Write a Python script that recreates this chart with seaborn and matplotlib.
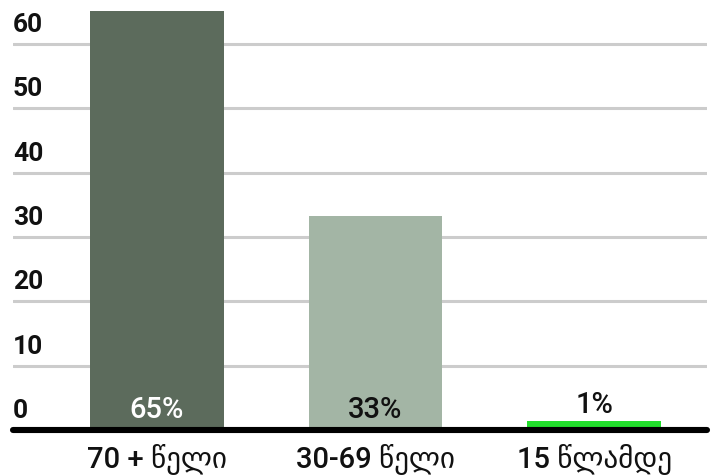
import matplotlib
matplotlib.use('Agg')
import matplotlib.pyplot as plt
import matplotlib.transforms as mtransforms
import seaborn as sns
import pandas as pd

# ─── 数据 ───
categories = ['70 + წელი', '30-69 წელი', '15 წლამდე']
values = [65.2, 33.2, 1.4]
value_labels = ['65%', '33%', '1%']
bar_colors = ['#5c6b5c', '#a3b5a5', '#22de2c']
label_colors = ['#ffffff', '#111111', '#111111']
yticks = [0, 10, 20, 30, 40, 50, 60]

sns.set_style('white')
plt.rcParams['font.family'] = ['Roboto', 'DejaVu Sans']

df = pd.DataFrame({'cat': categories, 'val': values})

fig = plt.figure(figsize=(7.16, 4.76), dpi=100)
ax = fig.add_axes([13 / 716, 46 / 476, 694 / 716, 430 / 476])

sns.barplot(data=df, x='cat', y='val', hue='cat', palette=bar_colors,
            legend=False, width=0.613, saturation=1, linewidth=0,
            ax=ax, zorder=2)

ax.set_xlim(-0.659, 2.517)
ax.set_ylim(0, 66.84)
for s in ax.spines.values():
    s.set_visible(False)
ax.set_xticks([])
ax.set_yticks([])
ax.set_xlabel('')
ax.set_ylabel('')

# 网格线 + 基线
for t in yticks[1:]:
    ax.axhline(t, color='#cccccc', lw=2.2, zorder=1)
ax.axhline(0, color='black', lw=4.4, zorder=3, clip_on=False)

# y 轴标签（在网格线上方，靠左）
trans = mtransforms.blended_transform_factory(ax.transAxes, ax.transData)
for t in yticks:
    ax.text(0, t + 1.85, str(t), transform=trans, ha='left', va='baseline',
            fontsize=19, fontweight='bold', color='#111111')

# 百分比标签：大柱子放在柱内底部，小柱子放在柱顶上方
for i, (v, lab, c) in enumerate(zip(values, value_labels, label_colors)):
    y = 1.87 if v > 5 else v + 1.2
    ax.text(i, y, lab, ha='center', va='baseline',
            fontsize=21, fontweight=500, color=c, zorder=4)

# x 轴类别标签
for i, cat in enumerate(categories):
    ax.text(i, -5.7, cat, ha='center', va='baseline', fontsize=21,
            fontweight=500, color='#111111', clip_on=False)

plt.savefig('out.png', dpi=100)
